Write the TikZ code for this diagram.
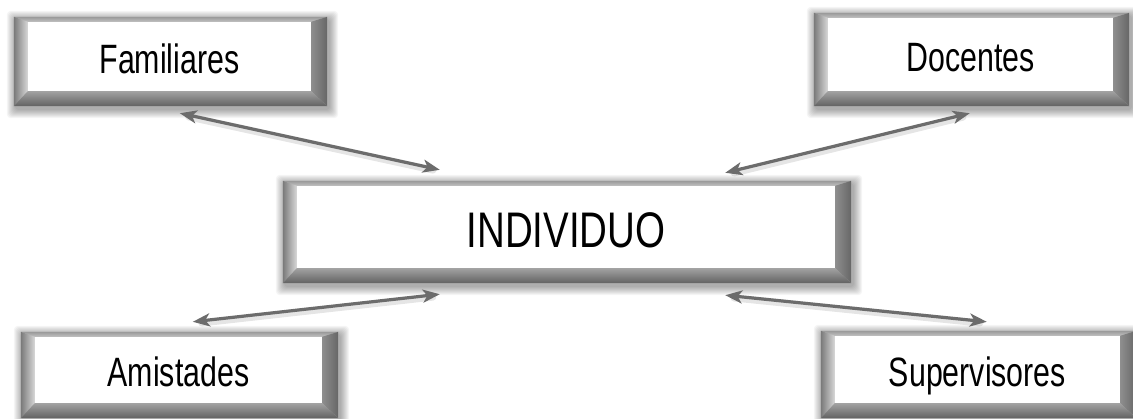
\documentclass[tikz,border=0pt]{standalone}
\usepackage{fontspec}
\setmainfont{Liberation Sans}
\usetikzlibrary{calc,arrows.meta}
\definecolor{arrowgray}{HTML}{6C6C6C}
\definecolor{bvA}{HTML}{7A7A7A}
\definecolor{bvB}{HTML}{D8D8D8}
\definecolor{bvC}{HTML}{999999}
\definecolor{bvD}{HTML}{C2C2C2}
\definecolor{bvE}{HTML}{8E8E8E}
\definecolor{bvF}{HTML}{666666}
\definecolor{bvG}{HTML}{A2A2A2}
\definecolor{bvH}{HTML}{626262}
\newcommand\sqz[2]{\scalebox{#1}[1]{#2}}
\newcommand\bevelframe[1]{%
  % soft shadow
  \foreach \s in {1,...,9}{%
    \fill[black,opacity=0.04,rounded corners=4pt]
      ($(#1.north west)+(-14-\s+2,-5-\s+3)$) rectangle ($(#1.south east)+(16+\s+2,15+\s+3)$);
  }
  % white face
  \fill[white] (#1.north west) rectangle (#1.south east);
  % top bevel
  \shade[top color=bvC,bottom color=bvD]
    (#1.north west) -- ($(#1.north west)+(-14,-5)$) -- ($(#1.north east)+(16,-5)$) -- (#1.north east) -- cycle;
  % left bevel
  \shade[left color=bvA,right color=bvB]
    (#1.north west) -- ($(#1.north west)+(-14,-5)$) -- ($(#1.south west)+(-14,15)$) -- (#1.south west) -- cycle;
  % right bevel
  \shade[left color=bvE,right color=bvF]
    (#1.north east) -- ($(#1.north east)+(16,-5)$) -- ($(#1.south east)+(16,15)$) -- (#1.south east) -- cycle;
  % bottom bevel
  \shade[top color=bvG,bottom color=bvH]
    (#1.south west) -- ($(#1.south west)+(-14,15)$) -- ($(#1.south east)+(16,15)$) -- (#1.south east) -- cycle;
}
\tikzset{
  facebox/.style={rectangle,inner sep=0pt,text=black,align=center},
  smallbox/.style={facebox,font=\fontsize{41}{42}\selectfont,text height=33pt,text depth=0pt},
  bigbox/.style={facebox,font=\fontsize{50}{51}\selectfont,text height=40pt,text depth=0pt},
  conn/.style={draw=arrowgray,line width=3.2pt,
    {Stealth[length=17pt,width=13pt,inset=4.5pt]}-{Stealth[length=17pt,width=13pt,inset=4.5pt]}},
  connshadow/.style={draw=black,opacity=0.10,line width=7pt,line cap=round}
}
\begin{document}
\begin{tikzpicture}[x=1pt,y=-1pt]
\useasboundingbox (0,0) rectangle (1133,418);
\fill[white] (0,0) rectangle (1133,418);
% box faces (geometry)
\path node[smallbox,minimum width=283pt,minimum height=69pt] (fam) at (169.5,56.5) {};
\path node[smallbox,minimum width=285pt,minimum height=73pt] (doc) at (970.5,54.5) {};
\path node[bigbox,minimum width=538pt,minimum height=82pt] (ind) at (566,227) {};
\path node[smallbox,minimum width=287pt,minimum height=66pt] (ami) at (178.5,370) {};
\path node[smallbox,minimum width=285pt,minimum height=67pt] (sup) at (977.5,369.5) {};
\bevelframe{fam}
\bevelframe{doc}
\bevelframe{ind}
\bevelframe{ami}
\bevelframe{sup}
% texts
\node[smallbox,minimum width=283pt,minimum height=69pt] at (fam) {\sqz{0.74}{Familiares}};
\node[smallbox,minimum width=285pt,minimum height=73pt] at (doc) {\sqz{0.74}{Docentes}};
\node[bigbox,minimum width=538pt,minimum height=82pt] at (ind) {\sqz{0.77}{INDIVIDUO}};
\node[smallbox,minimum width=287pt,minimum height=66pt] at (ami) {\sqz{0.74}{Amistades}};
\node[smallbox,minimum width=285pt,minimum height=67pt] at (sup) {\sqz{0.74}{Supervisores}};
% connector end points
\coordinate (f1) at ($(fam.south west)+(152,22)$);
\coordinate (i1) at ($(ind.north west)+(143,-16)$);
\coordinate (d1) at ($(doc.south west)+(142,22)$);
\coordinate (i2) at ($(ind.north east)+(-110,-13)$);
\coordinate (a1) at ($(ami.north west)+(158,-15)$);
\coordinate (i3) at ($(ind.south west)+(143,26)$);
\coordinate (i4) at ($(ind.south east)+(-110,27)$);
\coordinate (s1) at ($(sup.north west)+(152,-14)$);
% shadows of connectors
\draw[connshadow] ($(f1)!8pt!(i1)+(1,2)$) -- ($(i1)!8pt!(f1)+(1,2)$);
\draw[connshadow] ($(d1)!8pt!(i2)+(1,2)$) -- ($(i2)!8pt!(d1)+(1,2)$);
\draw[connshadow] ($(a1)!8pt!(i3)+(1,2)$) -- ($(i3)!8pt!(a1)+(1,2)$);
\draw[connshadow] ($(i4)!8pt!(s1)+(1,2)$) -- ($(s1)!8pt!(i4)+(1,2)$);
% connectors
\draw[conn] (f1) -- (i1);
\draw[conn] (d1) -- (i2);
\draw[conn] (a1) -- (i3);
\draw[conn] (i4) -- (s1);
\end{tikzpicture}
\end{document}
